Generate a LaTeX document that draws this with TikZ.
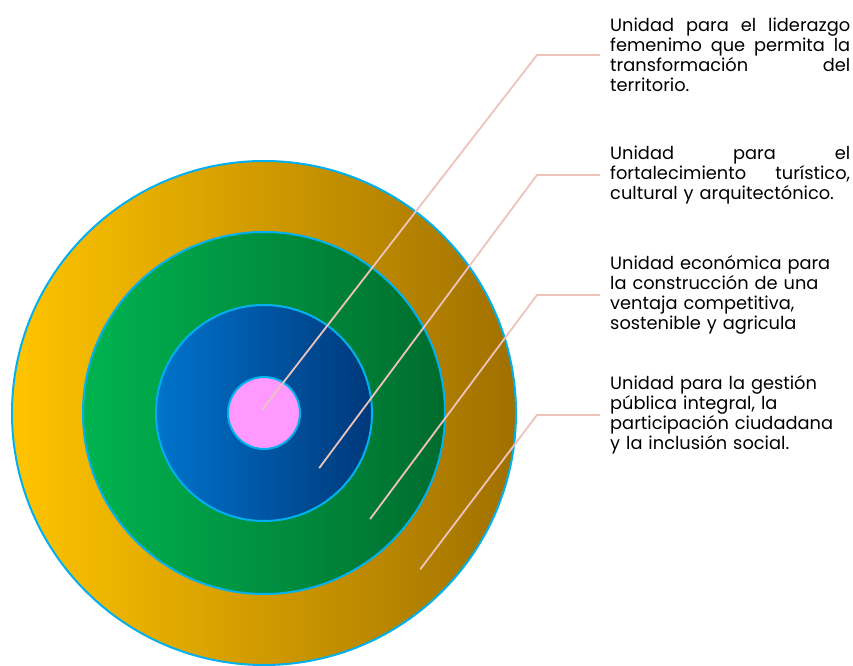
\documentclass[tikz,border=0pt]{standalone}
\usepackage{fontspec}
\setmainfont{Poppins}
\usepackage{tikz}
\usetikzlibrary{positioning,calc}

\definecolor{ringedge}{HTML}{00B0F0}
\definecolor{leadpink}{HTML}{EDC3BC}
\definecolor{goldleft}{HTML}{FFC400}
\definecolor{goldright}{HTML}{A07000}
\definecolor{greenleft}{HTML}{00B450}
\definecolor{greenright}{HTML}{006C2E}
\definecolor{blueleft}{HTML}{0074CC}
\definecolor{blueright}{HTML}{00387A}
\definecolor{corepink}{HTML}{FF99FF}

\begin{document}
\begin{tikzpicture}[x=1pt,y=1pt,
    ring/.style={draw=ringedge, line width=2pt},
    leader/.style={draw=leadpink, line width=1.8pt},
    unitlabel/.style={anchor=west, inner xsep=10pt, inner ysep=0pt,
        text width=240pt, align=left,
        font=\fontsize{17.8}{20}\selectfont}]
    \useasboundingbox (0,0) rectangle (853,665);
    \coordinate (c) at (264,252);

    % Rings, outside in
    \shadedraw[ring, left color=goldleft, right color=goldright] (c) circle (252);
    \shadedraw[ring, left color=greenleft, right color=greenright] (c) circle (181);
    \shadedraw[ring, left color=blueleft, right color=blueright] (c) circle (108);
    \filldraw[ring, fill=corepink] (c) circle (36);

    % Start points of the leaders
    \coordinate (s1) at ($(c)+(-2,3)$);
    \coordinate (s2) at ($(c)+(-45:78)$);
    \coordinate (s3) at ($(c)+(-45:150)$);
    \coordinate (s4) at ($(c)+(-45:221)$);

    % Labels
    \node[unitlabel] (t1) at (600,610) {Unidad\hfill para\hfill el\hfill liderazgo\\
        femenimo\hfill que\hfill permita\hfill la\\
        transformación\hfill del\\
        territorio.};
    \node[unitlabel] (t2) at (600,490) {Unidad\hfill para\hfill el\\
        fortalecimiento\hfill turístico,\\
        cultural y arquitectónico.};
    \node[unitlabel] (t3) at (600,370) {Unidad económica para\\
        la construcción de una\\
        ventaja competitiva,\\
        sostenible y agricula};
    \node[unitlabel] (t4) at (600,250) {Unidad para la gestión\\
        pública integral, la\\
        participación ciudadana\\
        y la inclusión social.};

    % Leaders
    \foreach \i in {1,...,4} {
        \draw[leader] (s\i) -- ([xshift=-63pt]t\i.west) -- (t\i.west);
    }
\end{tikzpicture}
\end{document}
